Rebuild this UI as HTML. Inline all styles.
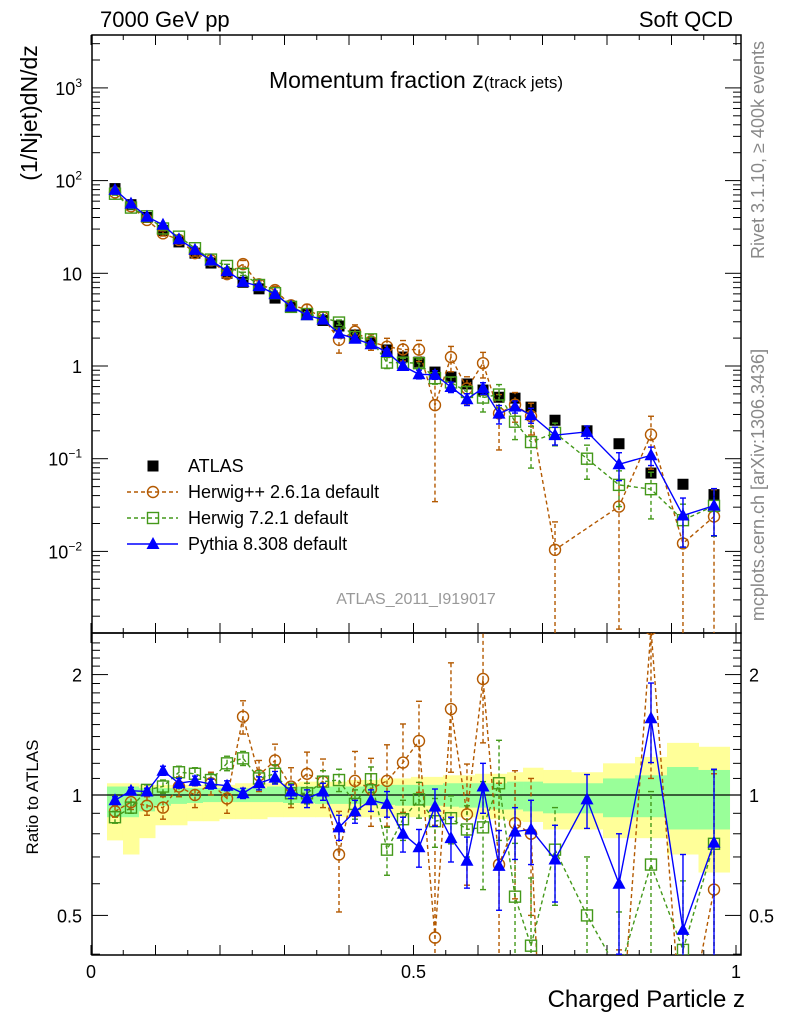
<!DOCTYPE html>
<html><head><meta charset="utf-8"><style>
html,body{margin:0;background:#fff;font-family:"Liberation Sans",sans-serif;overflow:hidden;width:786px;height:1024px}
svg{display:block}
</style></head><body>
<svg id="chart" width="786" height="1024" xmlns="http://www.w3.org/2000/svg" font-family="Liberation Sans, sans-serif">
<defs>
<clipPath id="cm"><rect x="92" y="35" width="649" height="598"/></clipPath>
<clipPath id="cr"><rect x="92" y="633" width="649" height="322"/></clipPath>
</defs>
<text x="100" y="27" font-size="22">7000 GeV pp</text>
<text x="733" y="27" font-size="22" text-anchor="end">Soft QCD</text>
<text x="416" y="88" font-size="23" text-anchor="middle">Momentum fraction z<tspan font-size="17">(track jets)</tspan></text>
<text transform="translate(37,113) rotate(-90)" font-size="23" text-anchor="middle">(1/Njet)dN/dz</text>
<text transform="translate(38,797) rotate(-90)" font-size="17" text-anchor="middle">Ratio to ATLAS</text>
<text x="745" y="1007" font-size="24" text-anchor="end">Charged Particle z</text>
<text transform="translate(764,150) rotate(-90)" font-size="18" fill="#888" text-anchor="middle">Rivet 3.1.10, ≥ 400k events</text>
<text transform="translate(764,485) rotate(-90)" font-size="18" fill="#888" text-anchor="middle">mcplots.cern.ch [arXiv:1306.3436]</text>
<text x="416" y="604" font-size="16" fill="#999" text-anchor="middle">ATLAS_2011_I919017</text>
<g id="bands" clip-path="url(#cr)"></g>
<g id="axes"></g>
<g id="mainMarks" clip-path="url(#cm)"></g>
<g id="ratioMarks" clip-path="url(#cr)"></g>
<g id="legend"></g>
</svg>
<script>
const NS="http://www.w3.org/2000/svg";
const zVals=[0.0372,0.062,0.0868,0.1116,0.1364,0.1612,0.186,0.2109,0.2357,0.2605,0.2853,0.3101,0.3349,0.3597,0.3845,0.4093,0.4341,0.4589,0.4837,0.5085,0.5333,0.5581,0.5829,0.6078,0.6326,0.6574,0.6822,0.7194,0.7690,0.8186,0.8682,0.9178,0.9659];
const atlasVals=[82,55,40,29,21.8,16.5,12.9,10,8,6.8,5.4,4.3,3.6,3.1,2.7,2.16,1.77,1.49,1.25,1.1,0.86,0.76,0.64,0.55,0.46,0.45,0.36,0.26,0.2,0.145,0.07,0.053,0.041];
const pythiaRatio=[0.97,1.025,1.02,1.15,1.07,1.085,1.065,1.055,1.01,1.07,1.105,1.02,0.98,1.02,0.83,0.91,0.97,0.95,0.80,0.74,0.935,0.78,0.685,1.05,0.665,0.81,0.82,0.69,0.975,0.60,1.555,0.46,0.76];
const pythiaErr=[0.02,0.02,0.02,0.03,0.03,0.03,0.03,0.03,0.03,0.04,0.04,0.04,0.05,0.05,0.06,0.06,0.06,0.07,0.08,0.08,0.1,0.1,0.1,0.15,0.15,0.12,0.15,0.15,0.15,0.2,0.35,0.25,0.4];
const herwig7Ratio=[0.88,0.93,1.03,1.05,1.14,1.13,1.09,1.2,1.235,1.10,1.13,1.01,1.01,1.08,1.09,0.95,1.095,0.73,0.87,0.975,0.86,0.875,0.82,0.83,1.07,0.557,0.42,0.73,0.50,0.36,0.67,0.41,0.755];
const herwig7Err=[0.03,0.03,0.03,0.04,0.04,0.04,0.04,0.05,0.05,0.05,0.06,0.06,0.06,0.07,0.07,0.08,0.08,0.1,0.1,0.1,0.12,0.12,0.12,0.25,0.3,0.2,0.2,0.2,0.2,0.15,0.35,0.2,0.4];
const herwigppRatio=[0.91,0.96,0.94,0.93,1.05,1.0,1.07,0.98,1.57,1.12,1.22,1.05,1.13,1.08,0.71,1.085,1.035,1.085,1.205,1.365,0.44,1.64,0.895,1.95,0.67,0.85,0.8,0.04,null,0.21,2.6,0.23,0.58];
const herwigppErr=[0.03,0.04,0.05,0.06,0.06,0.07,0.07,0.08,0.15,0.1,0.12,0.12,0.15,0.15,0.2,0.2,0.2,0.25,0.3,0.35,0.4,0.5,0.3,0.6,0.4,0.3,0.3,0.04,0,0.2,1.5,0.23,0.55];
const yellowHi=[1.07,1.07,1.06,1.06,1.06,1.06,1.06,1.06,1.07,1.07,1.07,1.07,1.08,1.08,1.08,1.09,1.09,1.10,1.10,1.11,1.11,1.12,1.12,1.13,1.13,1.14,1.17,1.155,1.14,1.2,1.245,1.35,1.32];
const yellowLo=[0.77,0.71,0.78,0.84,0.84,0.86,0.86,0.87,0.87,0.87,0.88,0.88,0.88,0.88,0.88,0.88,0.88,0.88,0.88,0.88,0.88,0.88,0.88,0.87,0.87,0.86,0.856,0.82,0.82,0.78,0.78,0.71,0.64];
const greenHi=[1.05,1.05,1.04,1.04,1.04,1.04,1.04,1.04,1.04,1.04,1.05,1.05,1.05,1.05,1.05,1.05,1.06,1.06,1.06,1.06,1.06,1.07,1.07,1.07,1.07,1.08,1.08,1.07,1.07,1.1,1.12,1.175,1.155];
const greenLo=[0.88,0.88,0.91,0.94,0.95,0.955,0.96,0.96,0.96,0.96,0.96,0.955,0.955,0.95,0.95,0.95,0.95,0.945,0.94,0.94,0.94,0.935,0.93,0.93,0.92,0.92,0.91,0.9,0.9,0.88,0.88,0.82,0.82];
const xTickLabels=["0","0.5","1"];
const mainTickExps=[-2,-1,0,1,2,3];
const ratioTickLabels=["0.5","1","2"];

const X=z=>91+645*z;
const YM=v=>366-92.7*Math.log10(v);
const YR=r=>795-400*Math.log10(r);
const L=92,R=741,MT=35,MB=633,RB=955;
function el(tag,at,parent){const e=document.createElementNS(NS,tag);for(const k in at)e.setAttribute(k,at[k]);parent.appendChild(e);return e;}
const axes=document.getElementById('axes'),bands=document.getElementById('bands'),mm=document.getElementById('mainMarks'),rm=document.getElementById('ratioMarks'),lg=document.getElementById('legend');

const edges=[];for(let i=0;i<=zVals.length;i++){if(i==0)edges.push(zVals[0]-(zVals[1]-zVals[0])/2);else if(i==zVals.length)edges.push(zVals[i-1]+(zVals[i-1]-zVals[i-2])/2);else edges.push((zVals[i-1]+zVals[i])/2);}
for(let i=0;i<zVals.length;i++){
 const x0=X(edges[i]),x1=X(edges[i+1]);
 const yb=el('rect',{x:x0,y:YR(yellowHi[i]),width:x1-x0+0.5,height:YR(yellowLo[i])-YR(yellowHi[i]),fill:'#ffff99'},bands);
 
 
 const gb=el('rect',{x:x0,y:YR(greenHi[i]),width:x1-x0+0.5,height:YR(greenLo[i])-YR(greenHi[i]),fill:'#99ff99'},bands);
 
 
}
const f1=el('rect',{x:L,y:MT,width:R-L,height:MB-MT,fill:'none',stroke:'#000','stroke-width':1.5},axes);


const f2=el('rect',{x:L,y:MB,width:R-L,height:RB-MB,fill:'none',stroke:'#000','stroke-width':1.5},axes);


const ul=el('line',{x1:L,x2:R,y1:YR(1),y2:YR(1),stroke:'#000','stroke-width':1.3},axes);


for(let k=0;k<=20;k++){const z=k*0.05,x=X(z);if(x>R)continue;const len=k%2==0?10:5;
 for(const yb of [MB,RB]){el('line',{x1:x,x2:x,y1:yb,y2:yb-len,stroke:'#000'},axes);}
 el('line',{x1:x,x2:x,y1:MT,y2:MT+len,stroke:'#000'},axes);el('line',{x1:x,x2:x,y1:MB,y2:MB+len,stroke:'#000'},axes);}
xTickLabels.forEach(s=>{const t=el('text',{x:X(parseFloat(s)),y:978,'font-size':18,'text-anchor':'middle'},axes);t.textContent=s;
 
 });
for(let e=-3;e<=3;e++)for(let m=1;m<10;m++){const v=m*Math.pow(10,e),y=YM(v);if(y<MT||y>MB)continue;const len=m==1?16:8;
 el('line',{x1:L,x2:L+len,y1:y,y2:y,stroke:'#000'},axes);el('line',{x1:R,x2:R-len,y1:y,y2:y,stroke:'#000'},axes);}
mainTickExps.forEach(e=>{const y=YM(Math.pow(10,e))+7;const t=el('text',{x:82,y:y,'font-size':18,'text-anchor':'end'},axes);
 if(e==0)t.textContent='1';else if(e==1)t.textContent='10';else{t.textContent='10';const s=el('tspan',{dy:-8,'font-size':12},t);s.textContent=String(e).replace('-','−');}
 
 });
for(let r=0.4;r<=2.5;r+=0.1){const rr=Math.round(r*10)/10,y=YR(rr);if(y<MB||y>RB)continue;const len=(rr==0.5||rr==1||rr==2)?16:8;
 el('line',{x1:L,x2:L+len,y1:y,y2:y,stroke:'#000'},axes);el('line',{x1:R,x2:R-len,y1:y,y2:y,stroke:'#000'},axes);}
ratioTickLabels.forEach(s=>{const y=YR(parseFloat(s))+7;
 const t=el('text',{x:82,y:y,'font-size':18,'text-anchor':'end'},axes);t.textContent=s;
 
 
 const t2=el('text',{x:749,y:y,'font-size':18},axes);t2.textContent=s;
 
 });

function marker(g,type,x,y,color){
 if(type=='circle')return el('circle',{cx:x,cy:y,r:5.5,fill:'none',stroke:color,'stroke-width':1.4},g);
 if(type=='square')return el('rect',{x:x-5.5,y:y-5.5,width:11,height:11,fill:'none',stroke:color,'stroke-width':1.4},g);
 if(type=='tri')return el('polygon',{points:`${x-6.5},${y+5} ${x+6.5},${y+5} ${x},${y-7}`,fill:color},g);
 return el('rect',{x:x-5.5,y:y-5.5,width:11,height:11,fill:color},g);
}
const clampM=y=>Math.max(30,Math.min(640,y));
const clampR=y=>Math.max(628,Math.min(960,y));
function series(name,ratios,errs,type,color,dash){
 const gm=el('g',{},mm),gr=el('g',{},rm);
 
 
 
 
 const pm=[],pr=[];
 ratios.forEach((r,i)=>{if(r===null)return;const x=X(zVals[i]);
  const vm=atlasVals[i]*r;const ym=YM(vm),yr=YR(r);
  pm.push(x+','+ym);pr.push(x+','+yr);
  const lo=r-errs[i],hi=r+errs[i];
  const yml=clampM(lo>0?YM(atlasVals[i]*lo):960),ymh=clampM(YM(atlasVals[i]*hi));
  const yrl=clampR(lo>0?YR(lo):960),yrh=clampR(YR(hi));
  [[gm,yml,ymh],[gr,yrl,yrh]].forEach(([g,a,b])=>{
   el('line',{x1:x,x2:x,y1:a,y2:b,stroke:color,'stroke-width':1.4,'stroke-dasharray':dash||''},g);
   el('line',{x1:x-3,x2:x+3,y1:a,y2:a,stroke:color,'stroke-width':1.4},g);
   el('line',{x1:x-3,x2:x+3,y1:b,y2:b,stroke:color,'stroke-width':1.4},g);});
 });
 el('polyline',{points:pm.join(' '),fill:'none',stroke:color,'stroke-width':1.4,'stroke-dasharray':dash||''},gm);
 el('polyline',{points:pr.join(' '),fill:'none',stroke:color,'stroke-width':1.4,'stroke-dasharray':dash||''},gr);
 ratios.forEach((r,i)=>{if(r===null)return;const x=X(zVals[i]);
  const m1=marker(gm,type,x,YM(atlasVals[i]*r),color);
  
  
  const m2=marker(gr,type,x,YR(r),color);
  
  });
}
const ga=el('g',{},mm);


atlasVals.forEach((v,i)=>{const m=marker(ga,'fsq',X(zVals[i]),YM(v),'#000');
 
 });
series('herwigpp',herwigppRatio,herwigppErr,'circle','#b35900','4,3');
series('herwig7',herwig7Ratio,herwig7Err,'square','#44991a','4,3');
series('pythia',pythiaRatio,pythiaErr,'tri','#0000ff','');

const items=[['ATLAS','fsq','#000',null],['Herwig++ 2.6.1a default','circle','#b35900','4,3'],['Herwig 7.2.1 default','square','#44991a','4,3'],['Pythia 8.308 default','tri','#0000ff','']];
items.forEach((it,k)=>{const y=466+26*k;const g=el('g',{},lg);
 
 
 if(it[3]!==null)el('line',{x1:127,x2:178,y1:y,y2:y,stroke:it[2],'stroke-width':1.4,'stroke-dasharray':it[3]},g);
 marker(g,it[1],153,y,it[2]);
 const t=el('text',{x:188,y:y+6,'font-size':18},g);t.textContent=it[0];});
</script>
</body></html>
